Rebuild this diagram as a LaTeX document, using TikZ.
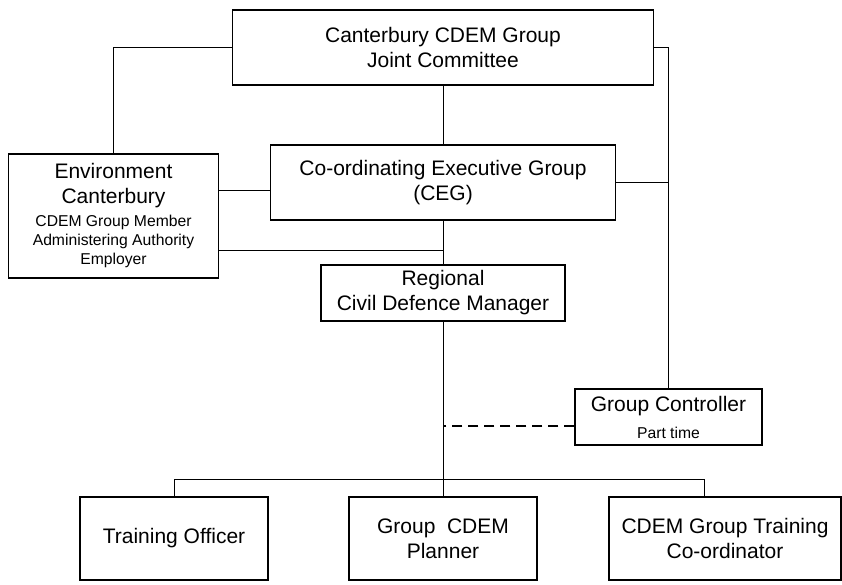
\documentclass[tikz,border=0pt]{standalone}
\usepackage{fontspec}
\setmainfont{Liberation Sans}
\usepackage{tikz}
\usetikzlibrary{calc}

\tikzset{
  orgbox/.style={draw, line width=1.1pt, inner sep=0pt, align=center, font=\fontsize{21}{25}\selectfont},
  link/.style={line width=0.8pt},
}
\newcommand{\smalltxt}[1]{{\fontsize{15.7}{19}\selectfont #1}}

\begin{document}
\begin{tikzpicture}[x=1pt,y=1pt,yscale=-1,xscale=1]
        \useasboundingbox (0,0) rectangle (842,584);

        % Boxes
        \node [orgbox, minimum width=421, minimum height=75] (jc) at (443,47.5) {Canterbury CDEM Group\\Joint Committee};
        \node [orgbox, minimum width=210, minimum height=124] (ecan) at (113.5,216) {Environment\\Canterbury\\[-2pt]\smalltxt{CDEM Group Member}\\[-6pt]\smalltxt{Administering Authority}\\[-6pt]\smalltxt{Employer}};
        \node [orgbox, minimum width=345, minimum height=75] (ceg) at (443,182.5) {Co-ordinating Executive Group\\(CEG)};
        \node [orgbox, minimum width=244, minimum height=56] (rcdm) at (443,293) {Regional\\Civil Defence Manager};
        \node [orgbox, minimum width=187, minimum height=56] (gc) at (668.5,417) {Group Controller\\[2pt]\smalltxt{Part time}};
        \node [orgbox, minimum width=188, minimum height=83] (tro) at (174,538.5) {Training Officer};
        \node [orgbox, minimum width=188, minimum height=83] (plan) at (443,538.5) {Group\ \ CDEM\\Planner};
        \node [orgbox, minimum width=232, minimum height=83] (tco) at (725,538.5) {CDEM Group Training\\Co-ordinator};

        % Free ends
        \coordinate (cegleft) at ($(ceg.west)+(0,7.5)$);
        \coordinate (ecanlow) at ($(ecan.east)+(0,34)$);
        \coordinate (gcdash) at ($(gc.west)+(0,9)$);
        \coordinate (bus) at (443,479);
        \coordinate (busright) at ($(tco.north)+(-21,0)$);

        % Connectors
        \draw [link] (jc.west) -| (ecan.north);
        \draw [link] (jc.east) -| (gc.north);
        \draw [link] (jc.south) -- (ceg.north);
        \draw [link] (ceg.south) -- (rcdm.north);
        \draw [link] (ceg.east) -- (ceg.east -| gc.north);
        \draw [link] (cegleft) -- (cegleft -| ecan.east);
        \draw [link] (ecanlow) -- (ecanlow -| ceg.south);
        \draw [link] (rcdm.south) -- (plan.north);
        \draw [link] (tro.north) |- (bus) -| (busright);
        \draw [link, line width=1.6pt, dash pattern=on 10pt off 6pt] (gcdash) -- (gcdash -| rcdm.south);
\end{tikzpicture}
\end{document}
